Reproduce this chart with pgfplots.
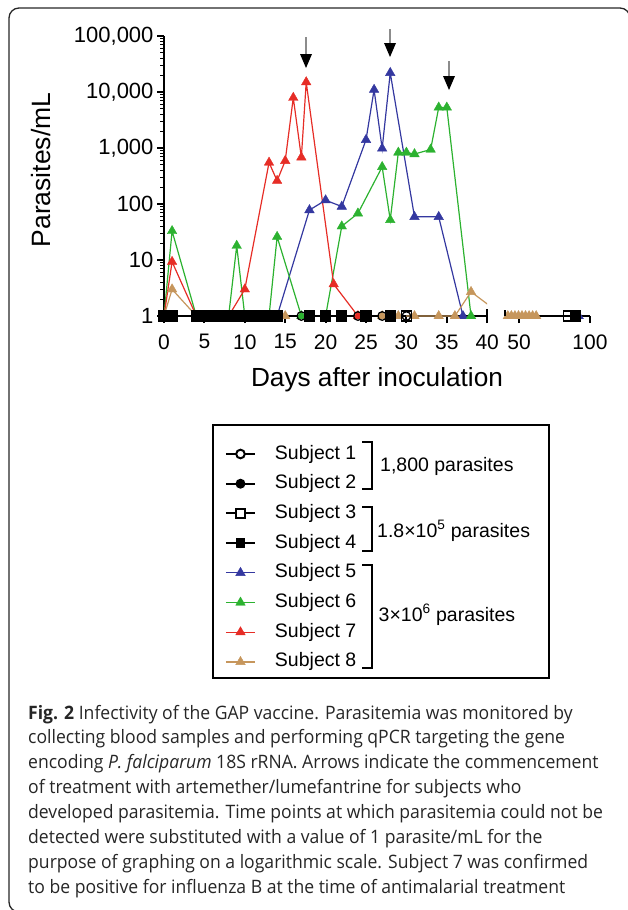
\documentclass[border=0pt]{standalone}
\usepackage{fontspec}
\setmainfont{Liberation Sans}
\newfontfamily\capfont{Open Sans}[FakeStretch=0.95]
\usepackage{pgfplots}
\usepackage{pgfplotstable}
\pgfplotsset{compat=1.18}

\definecolor{cfive}{RGB}{52,56,160}
\definecolor{csix}{RGB}{44,178,48}
\definecolor{cseven}{RGB}{230,45,38}
\definecolor{ceight}{RGB}{198,150,92}

\newcommand\fs[1]{\fontsize{#1}{#1}\selectfont}

% subject 8, first part of the x axis (the last point lies past the break)
\pgfplotstableread{
x y
0 1
1 3
4 1
5 1
6 1
7 1
8 1
9 1
10 1
11 1
12 1
13 1
14 1
15 1
18 1
20 1
22 1
27 1
29 1
31 1
34 1
36 1
38 2.7
42 1
}\tanA

\pgfplotsset{
  /pgf/number format/assume math mode=true,
  legend image code/.code={\draw[mark repeat=2,mark phase=2,#1] plot coordinates {(0pt,0pt) (14.5pt,0pt) (29pt,0pt)};},
  subj/.style={black, line width=2pt, mark size=4.3pt, mark options={solid, line width=1.3pt}},
  sq/.style={subj, mark size=5pt},
  tri/.style={color=#1, line width=1.2pt, mark=triangle*, mark size=5.5pt,
    mark options={solid, fill=#1, line width=0.4pt}},
}

\begin{document}
\begin{tikzpicture}
\useasboundingbox (0,0) rectangle (627pt,-910pt);

% ---------- days 0 to 40 ----------
\begin{axis}[
  scale only axis, height=280pt, width=323.2pt,
  at={(164pt,-316pt)}, anchor=south west,
  ymode=log, ymin=1, ymax=100000,
  xmin=0, xmax=40,
  axis x line=bottom, axis y line=left, axis line style={-},
  x axis line style={line width=2pt}, y axis line style={line width=2.5pt},
  tick align=outside,
  major tick length=7pt, minor tick length=4pt,
  major tick style={black, line width=2pt},
  minor tick style={black, line width=1.2pt},
  xtick={0,5,...,40},
  xticklabel style={font=\fs{21}, yshift=-8pt},
  ytick={1,10,100,1000,10000,100000},
  yticklabels={1,10,100,{1,000},{10,000},{100,000}},
  minor ytick={2,3,4,5,6,7,8,9,20,30,40,50,60,70,80,90,200,300,400,500,600,700,800,900,2000,3000,4000,5000,6000,7000,8000,9000,20000,30000,40000,50000,60000,70000,80000,90000},
  yticklabel style={font=\fs{22}},
  legend style={at={(axis description cs:0.1887,-0.4607)}, anchor=north west,
    draw=none, fill=none, inner sep=0pt, outer sep=0pt,
    row sep=11.7pt, column sep=19pt, font=\fs{19.5},
    nodes={inner sep=0pt, text height=14pt, text depth=4pt}},
  legend cell align=left,
]
\addlegendimage{subj, mark=*, mark options={fill=white}}
\addlegendentry{Subject 1}
\addlegendimage{subj, mark=*}
\addlegendentry{Subject 2}
\addlegendimage{subj, mark=square*, mark options={fill=white}}
\addlegendentry{Subject 3}
\addlegendimage{subj, mark=square*}
\addlegendentry{Subject 4}
\addlegendimage{tri=cfive}
\addlegendentry{Subject 5}
\addlegendimage{tri=csix}
\addlegendentry{Subject 6}
\addlegendimage{tri=cseven}
\addlegendentry{Subject 7}
\addlegendimage{tri=ceight}
\addlegendentry{Subject 8}

% subject 5
\addplot[tri=cfive, forget plot] coordinates {(0,1) (1,1) (4,1) (5,1) (6,1) (7,1) (8,1) (9,1) (10,1) (11,1) (12,1) (13,1) (14,1) (18,78) (20,117) (22,90) (25,1400) (26,11000) (27,980) (28,22000) (31,59) (34,59) (37,1)};
% subject 6
\addplot[tri=csix, forget plot] coordinates {(0,1) (1,33) (4,1) (5,1) (6,1) (7,1) (8,1) (9,18) (10,1) (11,1) (12,1) (13,1) (14,26) (17,1) (18,1) (20,1) (22,40) (24,68) (27,460) (28,52) (29,830) (30,830) (31,780) (33,940) (34,5300) (35,5300) (38,1)};
% subject 7
\addplot[tri=cseven, forget plot] coordinates {(0,1) (1,9.3) (4,1) (5,1) (6,1) (7,1) (8,1) (10,3) (13,550) (14,260) (15,590) (16,7900) (17,680) (17.6,15000) (21,3.7) (24,1)};
% subject 8
\addplot[tri=ceight, no marks, forget plot] table {\tanA};
\addplot[tri=ceight, only marks, restrict x to domain=0:40, forget plot] table {\tanA};
% subjects 1 to 4
\addplot[subj, mark=o, forget plot] coordinates {(0,1) (1,1) (4,1) (5,1) (6,1) (7,1) (8,1) (9,1) (10,1) (11,1) (12,1) (13,1) (14,1) (17,1) (24,1) (27,1) (30,1)};
\addplot[subj, mark=*, forget plot] coordinates {(0,1) (1,1) (4,1) (5,1) (6,1) (7,1) (8,1) (9,1) (10,1) (11,1) (12,1) (13,1) (14,1) (18,1) (20,1) (22,1) (25,1) (28,1)};
\addplot[sq, mark=square, forget plot] coordinates {(0,1) (1,1) (4,1) (5,1) (6,1) (7,1) (8,1) (9,1) (10,1) (11,1) (12,1) (13,1) (14,1) (30,1)};
\addplot[sq, mark=square*, forget plot] coordinates {(0,1) (1,1) (4,1) (5,1) (6,1) (7,1) (8,1) (9,1) (10,1) (11,1) (12,1) (13,1) (14,1) (18,1) (20,1) (22,1) (25,1) (28,1)};
\end{axis}

% ---------- days 40 to 100 ----------
\begin{axis}[
  scale only axis, height=280pt, width=85pt,
  at={(505pt,-316pt)}, anchor=south west,
  ymode=log, ymin=1, ymax=100000,
  xmin=40, xmax=100,
  axis x line=bottom, axis y line=none, axis line style={-},
  x axis line style={line width=2pt},
  tick align=outside,
  major tick length=7pt,
  major tick style={black, line width=2pt},
  xtick={50,100},
  xticklabel style={font=\fs{21}, yshift=-8pt},
]
\addplot[tri=ceight] coordinates {(42,1) (44.5,1) (47,1) (49.5,1) (52,1) (54.5,1) (57,1) (59.5,1) (62,1)};
\addplot[tri=cfive] coordinates {(92,1)};
\addplot[sq, mark=square] coordinates {(85,1)};
\addplot[sq, mark=square*] coordinates {(90,1)};
\end{axis}

\begin{scope}[x=1pt, y=-1pt]
% frame
\draw[line width=1.3pt, black!85, rounded corners=10pt] (40,912) -- (9,912) -- (9,8) -- (630,8) -- (630,40);
% ends of the two x axis parts
\draw[line width=2pt] (487.2,309) -- (487.2,316);
\draw[line width=2pt] (505,310) -- (505,316);
% axis titles
\node[rotate=90, font=\fs{26.5}] at (41,170) {Parasites/mL};
\node[font=\fs{26.2}] at (377,380) {Days after inoculation};
% treatment arrows
\foreach \ax/\top/\tip in {306/37/68, 390/29/57, 449/61/90} {
  \draw[black!45, line width=1.2pt] (\ax,\top) -- (\ax,\tip-12);
  \fill[black] (\ax-6,\tip-14) -- (\ax+6,\tip-14) -- (\ax,\tip) -- cycle;
}
% legend box and dose groups
\draw[line width=2.5pt] (213,425) rectangle (549,678);
\draw[line width=1.5pt] (362,442) -- (372,442) -- (372,489) -- (362,489);
\draw[line width=1.5pt] (362,507) -- (372,507) -- (372,551) -- (362,551);
\draw[line width=1.5pt] (362,565) -- (372,565) -- (372,668) -- (362,668);
\node[anchor=west, inner sep=0pt, font=\fs{19.5}] at (380,466) {1,800 parasites};
\node[anchor=west, inner sep=0pt, font=\fs{19.5}] at (377,531) {1.8×10\textsuperscript{5} parasites};
\node[anchor=west, inner sep=0pt, font=\fs{19.5}] at (378.5,615) {3×10\textsuperscript{6} parasites};
% caption
\foreach \k/\txt in {
  0/{\textbf{Fig. 2} Infectivity of the GAP vaccine. Parasitemia was monitored by},
  1/{collecting blood samples and performing qPCR targeting the gene},
  2/{encoding \textit{P. falciparum} 18S rRNA. Arrows indicate the commencement},
  3/{of treatment with artemether/lumefantrine for subjects who},
  4/{developed parasitemia. Time points at which parasitemia could not be},
  5/{detected were substituted with a value of 1 parasite/mL for the},
  6/{purpose of graphing on a logarithmic scale. Subject 7 was confirmed},
  7/{to be positive for influenza B at the time of antimalarial treatment}} {
  \node[anchor=base west, inner sep=0pt, font=\capfont\fs{18.5}, text=black!85] at (28,719+24.9*\k) {\txt};
}
\end{scope}
\end{tikzpicture}
\end{document}
